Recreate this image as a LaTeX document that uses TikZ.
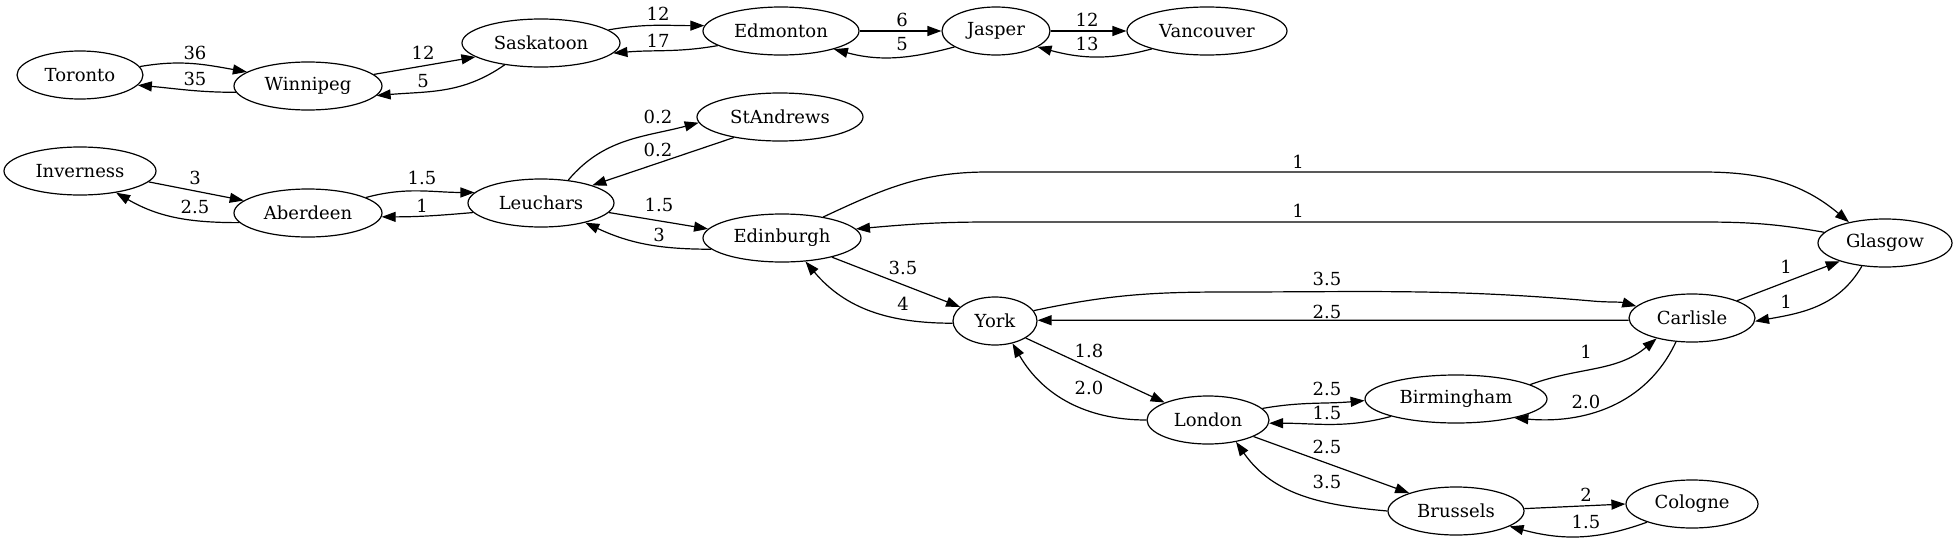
\documentclass[tikz,border=0pt]{standalone}
\usepackage{fontspec}
\setmainfont{DejaVu Serif}
\usetikzlibrary{shapes.geometric,arrows.meta}
\begin{document}
\begin{tikzpicture}[x=1pt,y=1pt,
  city/.style={ellipse,draw,line width=1.2pt,inner sep=0pt,minimum height=48pt,minimum width=#1,font=\fontsize{18}{21}\selectfont},
  lbl/.style={font=\fontsize{18}{21}\selectfont,inner sep=0pt,anchor=center},
  link/.style={line width=1.2pt,-{Triangle[length=14pt,width=10pt]}}]
\useasboundingbox (0,0) rectangle (1957,-541);
% nodes
\node[city=126pt] (tor) at (80,-75) {Toronto};
\node[city=148pt] (win) at (308,-86) {Winnipeg};
\node[city=158pt] (sas) at (541,-43) {Saskatoon};
\node[city=156pt] (edm) at (781,-31) {Edmonton};
\node[city=108pt] (jas) at (996,-31) {Jasper};
\node[city=160pt] (van) at (1207,-31) {Vancouver};
\node[city=166pt] (sta) at (780,-117) {StAndrews};
\node[city=152pt] (inv) at (80,-171) {Inverness};
\node[city=148pt] (abe) at (308,-213) {Aberdeen};
\node[city=146pt] (leu) at (541,-203) {Leuchars};
\node[city=158pt] (edi) at (782,-238) {Edinburgh};
\node[city=84pt] (yor) at (995,-321) {York};
\node[city=134pt] (gla) at (1885,-243) {Glasgow};
\node[city=126pt] (car) at (1692,-318) {Carlisle};
\node[city=182pt] (bir) at (1456,-399) {Birmingham};
\node[city=122pt] (lon) at (1208,-420) {London};
\node[city=136pt] (bru) at (1456,-511) {Brussels};
\node[city=132pt] (col) at (1692,-504) {Cologne};
% waypoints
\coordinate (g1) at (988,-172);
\coordinate (g2) at (1703,-172);
\coordinate (g3) at (1701,-222);
\coordinate (g4) at (990,-222);
\coordinate (c1) at (1226,-292);
\coordinate (c2) at (1592,-301);
% edges
\draw[link] (tor.8) to[out=10,in=170] (win.167);
\draw[link] (win.185) to[out=180,in=-5] (tor.-10);
\draw[link] (win.10) -- (sas.192);
\draw[link] (sas.211) to[out=215,in=5] (win.-8);
\draw[link] (sas.11) to[out=10,in=180] (edm.176);
\draw[link] (edm.193) to[out=190,in=5] (sas.-8);
\draw[link] (edm.east) -- (jas.west);
\draw[link] (jas.201) to[out=195,in=-15] (edm.-19);
\draw[link] (jas.east) -- (van.west);
\draw[link] (van.198) to[out=195,in=-15] (jas.-21);
\draw[link] (inv.-9) -- (abe.169);
\draw[link] (abe.188) to[out=180,in=-30] (inv.-31);
\draw[link] (abe.15) to[out=15,in=180] (leu.171);
\draw[link] (leu.188) to[out=185,in=0] (abe.-3);
\draw[link] (leu.40) to[out=50,in=195] (sta.184);
\draw[link] (sta.204) -- (leu.19);
\draw[link] (leu.-8) -- (edi.173);
\draw[link] (edi.189) to[out=180,in=-25] (leu.-24);
\draw[link] (edi.-21) -- (yor.158);
\draw[link] (yor.183) to[out=180,in=-50] (edi.-45);
\draw[link] (edi.27) to[out=25,in=180] (g1) -- (g2) to[out=0,in=140] (gla.150);
\draw[link] (gla.170) to[out=170,in=0] (g3) -- (g4) to[out=180,in=5] (edi.7);
\draw[link] (yor.15) to[out=12,in=180] (c1) to[out=0,in=175] (c2) to[out=-5,in=165] (car.168);
\draw[link] (car.182) -- (yor.1);
\draw[link] (yor.-29) -- (lon.158);
\draw[link] (lon.west) to[out=180,in=-60] (yor.-52);
\draw[link] (lon.12) to[out=10,in=185] (bir.181);
\draw[link] (bir.195) to[out=195,in=0] (lon.-3);
\draw[link] (bir.11) to[out=20,in=220] (car.210);
\draw[link] (car.236) to[out=245,in=-5] (bir.-18);
\draw[link] (car.21) -- (gla.202);
\draw[link] (gla.225) to[out=240,in=10] (car.-3);
\draw[link] (lon.-20) -- (bru.159);
\draw[link] (bru.west) to[out=175,in=-55] (lon.-38);
\draw[link] (bru.2) -- (col.west);
\draw[link] (col.202) to[out=200,in=-15] (bru.-16);
% labels
\node[lbl] (l1) at (195,-53) {36};
\node[lbl] (l2) at (195,-79) {35};
\node[lbl] (l3) at (423,-53) {12};
\node[lbl] (l4) at (423,-81) {5};
\node[lbl] (l5) at (658,-14) {12};
\node[lbl] (l6) at (658,-41) {17};
\node[lbl] (l7) at (902,-20) {6};
\node[lbl] (l8) at (902,-44) {5};
\node[lbl] (l9) at (1087,-20) {12};
\node[lbl] (l10) at (1087,-44) {13};
\node[lbl] (l11) at (195,-178) {3};
\node[lbl] (l12) at (195,-207) {2.5};
\node[lbl] (l13) at (422,-178) {1.5};
\node[lbl] (l14) at (422,-206) {1};
\node[lbl] (l15) at (658,-117) {0.2};
\node[lbl] (l16) at (658,-150) {0.2};
\node[lbl] (l17) at (659,-205) {1.5};
\node[lbl] (l18) at (659,-235) {3};
\node[lbl] (l19) at (903,-268) {3.5};
\node[lbl] (l20) at (903,-304) {4};
\node[lbl] (l21) at (1298,-162) {1};
\node[lbl] (l22) at (1298,-211) {1};
\node[lbl] (l23) at (1327,-279) {3.5};
\node[lbl] (l24) at (1327,-312) {2.5};
\node[lbl] (l25) at (1089,-351) {1.8};
\node[lbl] (l26) at (1089,-388) {2.0};
\node[lbl] (l27) at (1327,-389) {2.5};
\node[lbl] (l28) at (1327,-413) {1.5};
\node[lbl] (l29) at (1586,-352) {1};
\node[lbl] (l30) at (1586,-402) {2.0};
\node[lbl] (l31) at (1786,-267) {1};
\node[lbl] (l32) at (1786,-302) {1};
\node[lbl] (l33) at (1327,-447) {2.5};
\node[lbl] (l34) at (1327,-482) {3.5};
\node[lbl] (l35) at (1586,-495) {2};
\node[lbl] (l36) at (1586,-522) {1.5};
\end{tikzpicture}
\end{document}
